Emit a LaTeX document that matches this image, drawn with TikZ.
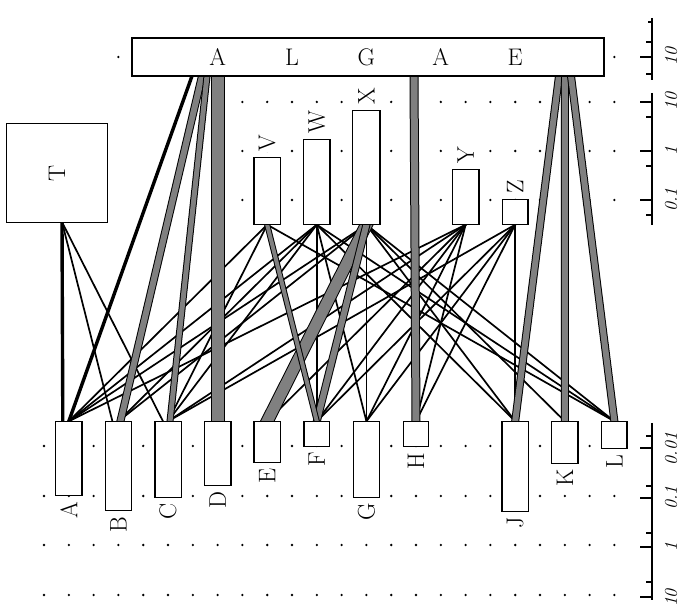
\documentclass[tikz,border=0pt]{standalone}
\begin{document}
\begin{tikzpicture}[x=1pt,y=-1pt,
  box/.style={draw, line width=1.4pt, fill=white, inner sep=0pt},
  lbl/.style={rotate=90, font=\fontsize{24}{24}\selectfont, inner sep=0.6pt, fill=white},
  alg/.style={font=\fontsize{24}{24}\selectfont, inner sep=0pt},
  thinln/.style={line width=1.7pt, shorten <=-2pt, shorten >=-2pt},
  heavyln/.style={line width=3.4pt, shorten <=-2pt, shorten >=-2pt},
  band/.style={draw=black, line width=1pt, double=black!50, double distance=#1, shorten <=-3pt, shorten >=-3pt},
  ax/.style={line width=1.5pt},
  axl/.style={rotate=90, font=\fontsize{18}{18}\selectfont\itshape, inner sep=0pt}]
\useasboundingbox (0,0) rectangle (681,612);
% grid dots
\foreach \k in {0,...,23}{\foreach \yy in {446,496,545,595}{\fill (44+24.8*\k,\yy) circle[radius=1.3pt];}}
\foreach \k in {8,...,23}{\foreach \yy in {102,151,200}{\fill (44+24.8*\k,\yy) circle[radius=1.3pt];}}
\foreach \k in {3,...,23}{\fill (44+24.8*\k,57) circle[radius=1.3pt];}
% axes
\draw[ax] (652,18) -- (652,80);
\draw[ax] (640,57) -- (652,57) (646,42) -- (652,42) (646,74) -- (652,74) (648,22) -- (652,22);
\draw[ax] (652,93) -- (652,225);
\draw[ax] (640,102) -- (652,102) (640,151) -- (652,151) (640,200) -- (652,200);
\draw[ax] (646,117) -- (652,117) (646,166) -- (652,166) (646,215) -- (652,215);
\draw[ax] (652,423) -- (652,600);
\draw[ax] (640,448) -- (652,448) (640,498) -- (652,498) (640,547) -- (652,547) (640,597) -- (652,597);
\draw[ax] (646,436) -- (652,436) (646,486) -- (652,486) (646,533) -- (652,533) (646,582) -- (652,582);
\node[axl] (t1) at (671,57) {10};
\node[axl] (t2) at (671,102) {10};
\node[axl] (t3) at (671,151) {1};
\node[axl] (t4) at (671,200) {0.1};
\node[axl] (b1) at (671,449) {0.01};
\node[axl] (b2) at (671,498) {0.1};
\node[axl] (b3) at (671,547) {1};
\node[axl] (b4) at (671,598) {10};
% nodes
\path
  (57,173) node[box, minimum width=100, minimum height=98] (T) {}
  (267.2,191) node[box, minimum width=25, minimum height=66] (V) {}
  (316.8,182) node[box, minimum width=25, minimum height=84] (W) {}
  (366.4,167.5) node[box, minimum width=26, minimum height=113] (X) {}
  (465.6,197) node[box, minimum width=25, minimum height=54] (Y) {}
  (515.2,212) node[box, minimum width=24, minimum height=24] (Z) {}
  (68.8,458.5) node[box, minimum width=25, minimum height=73] (A) {}
  (118.4,466) node[box, minimum width=25, minimum height=88] (B) {}
  (168,459.5) node[box, minimum width=25, minimum height=75] (C) {}
  (217.6,453.5) node[box, minimum width=25, minimum height=63] (D) {}
  (267.2,442) node[box, minimum width=25, minimum height=40] (E) {}
  (316.8,434) node[box, minimum width=24, minimum height=24] (F) {}
  (366.4,459.5) node[box, minimum width=25, minimum height=75] (G) {}
  (416,434) node[box, minimum width=24, minimum height=24] (H) {}
  (515.2,466.5) node[box, minimum width=25, minimum height=89] (J) {}
  (564.8,442.5) node[box, minimum width=25, minimum height=41] (K) {}
  (614.4,435) node[box, minimum width=24, minimum height=26] (L) {};
\coordinate (gA) at (192,76);
\coordinate (gB) at (202,76);
\coordinate (gC) at (207,76);
\coordinate (gD) at (217.6,76);
\coordinate (gH) at (414,76);
\coordinate (gJ) at (559,76);
\coordinate (gK) at (565,76);
\coordinate (gL) at (571,76);
\coordinate (tp) at (62,222);
% thin links
\foreach \a/\b in {V/A,V/C,V/L,W/A,W/B,W/C,W/G,W/J,W/L,X/A,X/B,X/J,X/K,X/L,Y/A,Y/C,Y/E,Y/F,Y/G,Y/H,Z/C,Z/F,Z/G,Z/H}
  \draw[thinln] (\a.south) -- (\b.north);
\draw[thinln] (W.south) -- (F.north);
\draw[thinln] (X.south) -- (G.north);
\draw[thinln] (Z.south) -- (J.north);
\draw[thinln] (tp) -- ([xshift=-6pt]B.north);
\draw[thinln] (tp) -- ([xshift=-5pt]C.north);
\draw[heavyln] (tp) -- ([xshift=-6pt]A.north);
\draw[heavyln] (gA) -- (A.north);
% bands
\draw[band=6] (gB) -- ([xshift=2pt]B.north);
\draw[band=5] (gC) -- ([xshift=2pt]C.north);
\draw[band=12] (gD) -- (D.north);
\draw[band=7] (gH) -- (H.north);
\draw[band=6] (gJ) -- (J.north);
\draw[band=6] (gK) -- (K.north);
\draw[band=6] (gL) -- (L.north);
\draw[band=11] (X.south) -- (E.north);
\draw[band=6] (X.south) -- (F.north);
\draw[band=4] (V.south) -- (F.north);
% boxes drawn on top
\foreach \n in {T,V,W,X,Y,Z,A,B,C,D,E,F,G,H,J,K,L}
  \draw[line width=1.4pt, fill=white] (\n.south west) rectangle (\n.north east);
\node[box, minimum width=472, minimum height=38] (alg) at (368,57) {};
% ALGAE letters
\node[alg] (a1) at (217.6,57) {A};
\node[alg] (a2) at (292,57) {L};
\node[alg] (a3) at (366.4,57) {G};
\node[alg] (a4) at (440.8,57) {A};
\node[alg] (a5) at (515.2,57) {E};
% labels
\node[lbl] (lT) at (T) {T};
\foreach \n in {V,W,X,Y,Z}
  \node[lbl, anchor=west] (l\n) at ([yshift=5pt]\n.north) {\n};
\foreach \n in {A,B,C,D,E,F,G,H,J,K,L}
  \node[lbl, anchor=east] (l\n) at ([yshift=-5pt]\n.south) {\n};
\end{tikzpicture}
\end{document}
